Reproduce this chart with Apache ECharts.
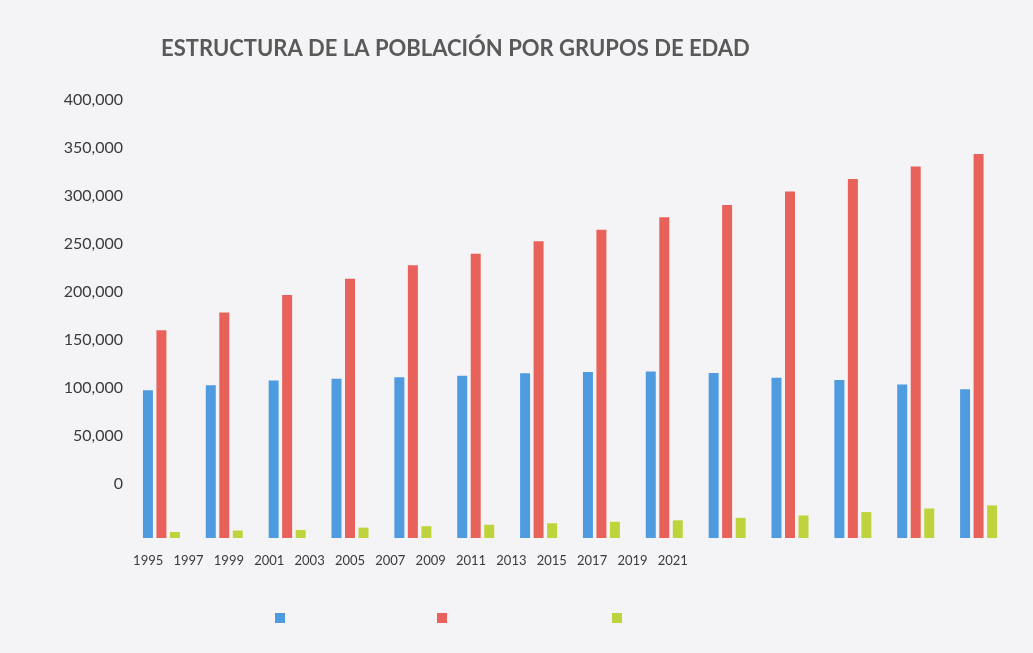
<!DOCTYPE html>
<html lang="es" style="height: 100%">
<head>
  <meta charset="utf-8">
</head>
<body style="height: 100%; margin: 0; background-color:#f4f4f7;">
  <div id="container" style="height: 100%"></div>

<script src="https://fastly.jsdelivr.net/npm/echarts@6/dist/echarts.min.js"></script>

<script>
  var dom = document.getElementById('container');
  var myChart = echarts.init(dom);

  var years = ['1995', '1997', '1999', '2001', '2003', '2005', '2007',
               '2009', '2011', '2013', '2015', '2017', '2019', '2021'];
  var serieAzul  = [154000, 159000, 164000, 166000, 167500, 169000, 171500,
                    173000, 173500, 172000, 167000, 164500, 160000, 155000];
  var serieRoja  = [216500, 235000, 253000, 270000, 284000, 296000, 309000,
                    321000, 334000, 347000, 361000, 374000, 387000, 400000];
  var serieVerde = [6300, 7800, 8300, 10800, 12300, 13900, 15400,
                    16900, 18400, 21000, 23500, 27000, 30700, 34000];
  var yTicks = { min: 0, max: 400000, interval: 50000 };

  var fontName = 'Lato, "Open Sans", sans-serif';

  function legendAt(name, x) {
    return {
      data: [name],
      left: x,
      top: 608,
      itemWidth: 10,
      itemHeight: 10,
      icon: 'rect',
      formatter: function () { return ''; },
      selectedMode: false
    };
  }

  var option = {
    backgroundColor: '#f4f4f7',
    title: {
      text: 'ESTRUCTURA DE LA POBLACIÓN POR GRUPOS DE EDAD',
      left: 156,
      top: 33,
      textStyle: {
        fontFamily: fontName,
        fontWeight: 'bold',
        fontSize: 22,
        color: '#595959'
      }
    },
    tooltip: {
      trigger: 'axis',
      axisPointer: { type: 'shadow' }
    },
    legend: [
      legendAt('Serie 1', 270),
      legendAt('Serie 2', 432),
      legendAt('Serie 3', 607)
    ],
    grid: [
      { left: 130, right: 23, top: 154, bottom: 115 },
      // year labels are squeezed to the left in the original
      { left: 128, width: 565, top: 154, bottom: 115 },
      // value labels are printed about one step above the bars' scale
      { left: 130, width: 10, top: 100, bottom: 169 }
    ],
    xAxis: [
      {
        type: 'category',
        gridIndex: 0,
        data: years,
        axisLine: { show: false },
        axisTick: { show: false },
        axisLabel: { show: false }
      },
      {
        type: 'category',
        gridIndex: 1,
        data: years,
        axisLine: { show: false },
        axisTick: { show: false },
        axisLabel: {
          interval: 0,
          margin: 16,
          fontFamily: fontName,
          fontSize: 13,
          color: '#3a3a3a'
        }
      },
      {
        type: 'category',
        gridIndex: 2,
        data: years,
        show: false
      }
    ],
    yAxis: [
      {
        type: 'value',
        gridIndex: 0,
        min: yTicks.min,
        max: yTicks.max,
        interval: yTicks.interval,
        splitLine: { show: false },
        axisLine: { show: false },
        axisTick: { show: false },
        axisLabel: { show: false }
      },
      {
        type: 'value',
        gridIndex: 1,
        show: false
      },
      {
        type: 'value',
        gridIndex: 2,
        min: yTicks.min,
        max: yTicks.max,
        interval: yTicks.interval,
        splitLine: { show: false },
        axisLine: { show: false },
        axisTick: { show: false },
        axisLabel: {
          margin: 7,
          fontFamily: fontName,
          fontSize: 16,
          color: '#3a3a3a',
          formatter: function (v) { return v.toLocaleString('en-US'); }
        }
      }
    ],
    series: [
      {
        name: 'Serie 1',
        type: 'bar',
        barWidth: 10,
        barGap: '35%',
        itemStyle: { color: '#4f9be0' },
        data: serieAzul
      },
      {
        name: 'Serie 2',
        type: 'bar',
        barWidth: 10,
        barGap: '35%',
        itemStyle: { color: '#e8625b' },
        data: serieRoja
      },
      {
        name: 'Serie 3',
        type: 'bar',
        barWidth: 10,
        barGap: '35%',
        itemStyle: { color: '#bfd43c' },
        data: serieVerde
      }
    ]
  };

  myChart.setOption(option);

  window.addEventListener('resize', myChart.resize);
</script>

</body>
</html>
